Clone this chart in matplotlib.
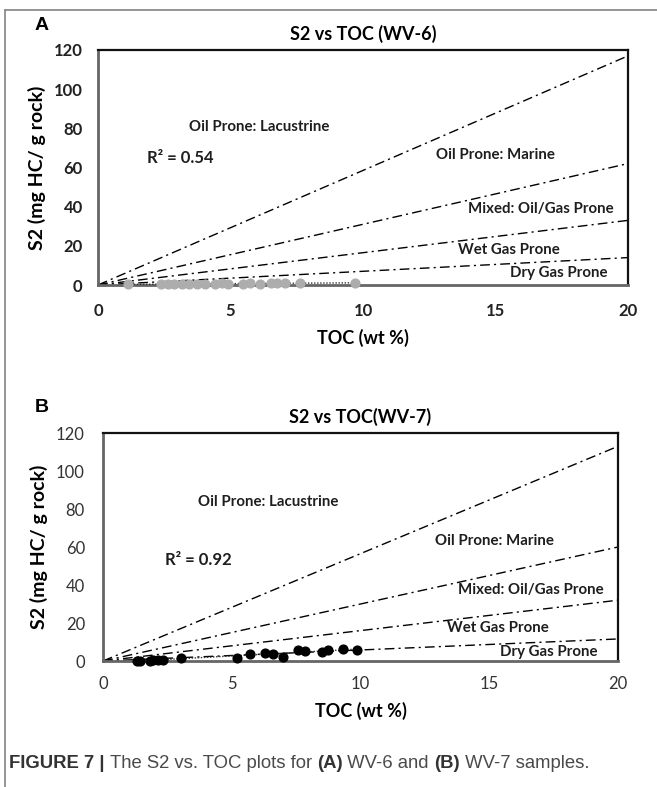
import numpy as np
import matplotlib
matplotlib.use("Agg")
import matplotlib.pyplot as plt
from matplotlib.lines import Line2D

# ---- data ----
toc_a = [1.12, 2.37, 2.66, 2.87, 3.17, 3.45, 3.74, 4.03, 4.4, 4.67, 4.89,
         5.46, 5.75, 6.11, 6.54, 6.75, 7.04, 7.62, 9.7]
s2_a = [0.3, 0.4, 0.5, 0.4, 0.6, 0.5, 0.7, 0.5, 0.6, 0.8, 0.7,
        0.6, 0.8, 0.7, 0.9, 0.8, 1.0, 0.9, 1.1]

toc_b = [1.31, 1.44, 1.83, 1.95, 2.15, 2.34, 3.02, 5.22, 5.71, 6.29, 6.61,
         7.0, 7.58, 7.84, 8.49, 8.75, 9.31, 9.85]
s2_b = [0.2, 0.2, 0.2, 0.5, 0.5, 0.5, 1.4, 1.4, 3.7, 4.4, 3.9,
        2.3, 5.8, 5.4, 4.7, 5.8, 6.1, 5.8]

# S2 reached by each kerogen boundary line at TOC = 20
bound_end_a = [117, 62, 33, 14]
bound_end_b = [113, 60, 32, 11.6]

zone_names = ["Oil Prone: Lacustrine", "Oil Prone: Marine", "Mixed: Oil/Gas Prone",
              "Wet Gas Prone", "Dry Gas Prone"]
zone_pos_a = [(6.1, 80.7), (15.0, 66.5), (16.7, 38.6), (15.5, 17.8), (17.4, 6.0)]
zone_pos_b = [(6.4, 83.7), (15.2, 63.0), (16.6, 37.4), (15.35, 17.2), (17.3, 4.6)]

r2_a = "R² = 0.54"
r2_b = "R² = 0.92"
r2_pos_a = (1.85, 65)
r2_pos_b = (2.4, 53)

titles = ["S2 vs TOC (WV-6)", "S2 vs TOC(WV-7)"]
xticks = [0, 5, 10, 15, 20]
yticks = [0, 20, 40, 60, 80, 100, 120]

W, H = 657, 787
FONT = "Lato"

fig = plt.figure(figsize=(W / 100, H / 100), dpi=100)


def box(l, r, t, b):
    return [l / W, 1 - b / H, (r - l) / W, (b - t) / H]


def panel(rect, toc, s2, ends, zone_pos, r2, r2_pos, title, color, tick_weight, tick_color):
    ax = fig.add_axes(rect)
    ax.set_xlim(0, 20)
    ax.set_ylim(0, 120)
    # boundary lines from origin
    for e in ends:
        ax.plot([0, 20], [0, e], color="black", lw=1.0, dashes=(7, 3, 1.5, 3), zorder=2)
    for name, (x, y) in zip(zone_names, zone_pos):
        ax.text(x, y, name, ha="center", va="center", fontsize=10.8,
                fontweight="bold", family=FONT, color="#1e1e1e")
    # trendline of the samples
    k, c = np.polyfit(toc, s2, 1)
    xs = np.array([min(toc), max(toc)])
    ax.plot(xs, k * xs + c, color="#333333", lw=1.0, ls=(0, (1, 1.2)), zorder=3)
    ax.plot(toc, s2, "o", ms=6.3, color=color, mec=color, zorder=4, clip_on=False)
    ax.text(r2_pos[0], r2_pos[1], r2, fontsize=12, fontweight="bold",
            family=FONT, va="center", color="#1e1e1e")
    ax.set_xticks(xticks)
    ax.set_yticks(yticks)
    ax.tick_params(length=0, labelsize=12, colors=tick_color)
    for lab in ax.get_xticklabels() + ax.get_yticklabels():
        lab.set_family(FONT)
        lab.set_fontweight(tick_weight)
    for side in ["top", "right"]:
        ax.spines[side].set_color("#111111")
        ax.spines[side].set_linewidth(1.6)
    for side in ["left", "bottom"]:
        ax.spines[side].set_color("#666666")
        ax.spines[side].set_linewidth(2.0)
    ax.set_title(title, fontsize=13, fontweight="bold", family=FONT, pad=7)
    ax.set_xlabel("TOC (wt %)", fontsize=13, fontweight="bold", family=FONT, labelpad=7)
    ax.set_ylabel("S2 (mg HC/ g rock)", fontsize=14, fontweight="bold", family=FONT, labelpad=6)
    return ax


axA = panel(box(98, 628, 50, 285), toc_a, s2_a, bound_end_a, zone_pos_a, r2_a, r2_pos_a,
            titles[0], "#adadad", "bold", "#222222")
axA.tick_params(axis="y", pad=11)
axA.tick_params(axis="x", pad=13)

axB = panel(box(103, 618, 433, 661), toc_b, s2_b, bound_end_b, zone_pos_b, r2_b, r2_pos_b,
            titles[1], "black", "normal", "#333333")
axB.tick_params(axis="y", pad=13)
axB.tick_params(axis="x", pad=11)

fig.text(35 / W, 1 - 25 / H, "A", fontsize=14, fontweight="bold", family="Liberation Sans",
         ha="left", va="center")
fig.text(35 / W, 1 - 408 / H, "B", fontsize=14, fontweight="bold", family="Liberation Sans",
         ha="left", va="center")

# journal frame (left and top)
fig.add_artist(Line2D([5 / W, 5 / W], [0, 1 - 10 / H], color="#8c8c8c", lw=1.3))
fig.add_artist(Line2D([5 / W, 1], [1 - 10 / H, 1 - 10 / H], color="#8c8c8c", lw=1.3))

# caption, written piece by piece so bold parts can sit inline
cap_font = ["Liberation Sans Narrow", "Liberation Sans"]
pieces = [("FIGURE 7 | ", "bold"), ("The S2 vs. TOC plots for ", "normal"), ("(A)", "bold"),
          (" WV-6 and ", "normal"), ("(B)", "bold"), (" WV-7 samples.", "normal")]
x = 9
fig.canvas.draw()
for s, w in pieces:
    t = fig.text(x / W, 1 - 763 / H, s, fontsize=13.3, fontweight=w, family=cap_font,
                 color="#333333" if w == "bold" else "#4a4a4a", va="center")
    fig.canvas.draw()
    x = t.get_window_extent().x1

fig.savefig("out.png", dpi=100)
